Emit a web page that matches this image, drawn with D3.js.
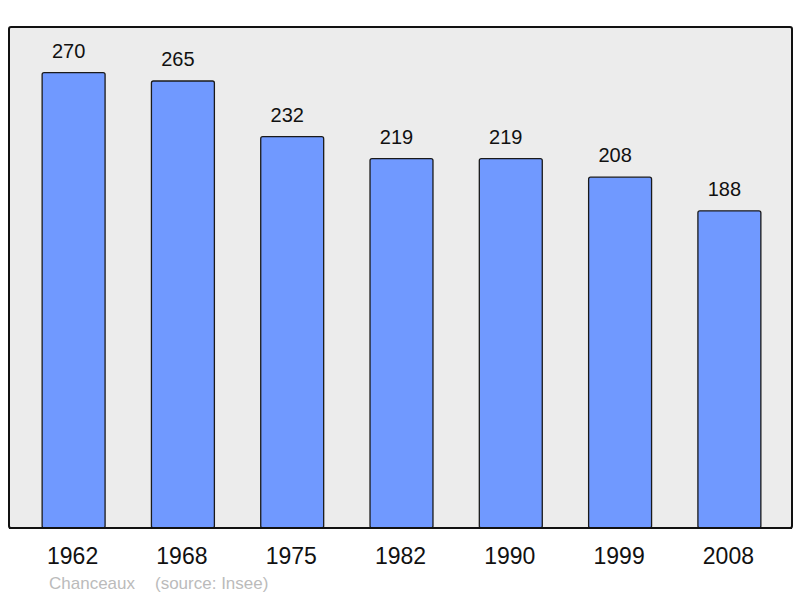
<!DOCTYPE html>
<html>
<head>
<meta charset="utf-8">
<script src="https://cdn.jsdelivr.net/npm/d3@7"></script>
<style>
  body { margin: 0; background: #fff; }
  svg text { font-family: "Liberation Sans", Arial, sans-serif; }
</style>
</head>
<body>
<div id="chart"></div>
<script>
// data
var years = ["1962", "1968", "1975", "1982", "1990", "1999", "2008"];
var population = [270, 265, 232, 219, 219, 208, 188];
var town = "Chanceaux";
var source = "(source: Insee)";

var W = 800, H = 598;
var frame = {x0: 9, y0: 27, x1: 792, y1: 528};

var svg = d3.select("#chart")
  .append("svg")
  .attr("width", W)
  .attr("height", H);

// background panel
svg.append("rect")
  .attr("x", frame.x0)
  .attr("y", frame.y0)
  .attr("width", frame.x1 - frame.x0)
  .attr("height", frame.y1 - frame.y0)
  .attr("rx", 2)
  .style("fill", "#ececec")
  .style("stroke", "#111")
  .style("stroke-width", 2);

var x = d3.scaleBand()
  .domain(years)
  .range([frame.x0 + 1, frame.x1 + 1])
  .paddingInner(0.424)
  .paddingOuter(0.294);

var y = d3.scaleLinear()
  .domain([0, d3.max(population) * 1.1])
  .range([frame.y1, frame.y0]);

var rows = years.map((yr, i) => ({year: yr, value: population[i]}));

svg.selectAll("rect.bar")
  .data(rows)
  .enter()
  .append("rect")
  .attr("class", "bar")
  .attr("x", d => x(d.year))
  .attr("y", d => y(d.value))
  .attr("width", x.bandwidth())
  .attr("height", d => frame.y1 - y(d.value))
  .attr("rx", 2)
  .style("fill", "#7099ff")
  .style("stroke", "#1a1a1a")
  .style("stroke-width", 1.3);

// redraw bottom edge of frame over bars
svg.append("line")
  .attr("x1", frame.x0)
  .attr("x2", frame.x1)
  .attr("y1", frame.y1)
  .attr("y2", frame.y1)
  .style("stroke", "#111")
  .style("stroke-width", 2);

// value labels (sit a little left of bar centre, as in the original)
svg.selectAll("text.val")
  .data(rows)
  .enter()
  .append("text")
  .attr("class", "val")
  .attr("x", d => x(d.year) + x.bandwidth() / 2 - 5)
  .attr("y", d => y(d.value) - 15)
  .attr("text-anchor", "middle")
  .style("font-size", "20px")
  .style("fill", "#111")
  .text(d => d.value);

// year axis labels
var xAxis = svg.append("g")
  .attr("transform", "translate(0," + frame.y1 + ")")
  .call(d3.axisBottom(x).tickSize(0).tickPadding(20));
xAxis.select(".domain").remove();
xAxis.selectAll("text")
  .attr("dx", "-1")
  .style("font-size", "23px")
  .style("font-family", "Liberation Sans, Arial, sans-serif")
  .style("fill", "#111");

// footer
svg.append("text")
  .attr("x", 49)
  .attr("y", 589)
  .style("font-size", "17px")
  .style("fill", "#bbb")
  .text(town);

svg.append("text")
  .attr("x", 155)
  .attr("y", 589)
  .style("font-size", "17px")
  .style("fill", "#bbb")
  .text(source);
</script>
</body>
</html>
